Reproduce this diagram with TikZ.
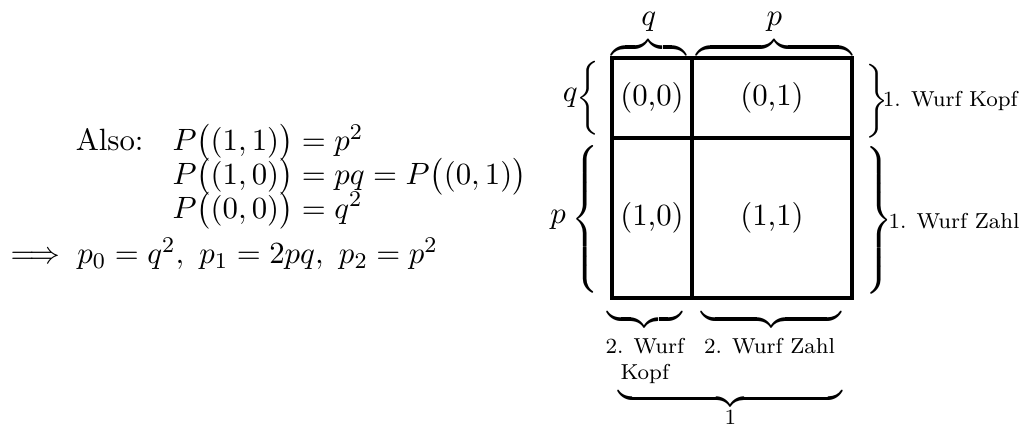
\documentclass[11pt,tikz,border=0pt]{standalone}
\usepackage{amsmath}
\newcommand{\lbrc}[1]{$\left\{\vcenter{\hbox{\rule{0pt}{#1}}}\right.$}
\newcommand{\rbrc}[1]{$\left.\vcenter{\hbox{\rule{0pt}{#1}}}\right\}$}
\begin{document}
\begin{tikzpicture}[inner sep=0pt, lab/.style={font=\fontsize{7.7}{9.4}\selectfont}, cell/.style={line width=1.1pt}]
  \useasboundingbox (-7.65,-1.6125) rectangle (5.1,3.725);
  \draw[cell] (0,0) rectangle (3,3);
  \draw[cell] (1,0) -- (1,3);
  \draw[cell] (0,2) -- (3,2);
  \node (c00) at (0.5,2.5) {(0,0)};
  \node (c01) at (2,2.5) {(0,1)};
  \node (c10) at (0.5,1) {(1,0)};
  \node (c11) at (2,1) {(1,1)};
  \node[anchor=south] (tq) at (0.46,3.0) {$\overbrace{\hskip0.93cm}$};
  \node[anchor=south] (tp) at (2.03,3.0) {$\overbrace{\hskip1.95cm}$};
  \node[anchor=base] (tqlab) at (0.46,3.41) {$q$};
  \node[anchor=base] (tplab) at (2.03,3.41) {$p$};
  \node[anchor=east] (lq) at (-0.11,2.5) {\lbrc{0.9cm}};
  \node[anchor=east] (lp) at (-0.11,0.98) {\lbrc{1.88cm}};
  \node[anchor=east] (lqlab) at (-0.42,2.5) {$q$};
  \node[anchor=east] (lplab) at (-0.57,0.98) {$p$};
  \node[anchor=west] (rk) at (3.12,2.46) {\rbrc{0.9cm}};
  \node[anchor=west] (rz) at (3.12,0.97) {\rbrc{1.88cm}};
  \node[lab, anchor=west] (rklab) at (3.38,2.46) {1. Wurf Kopf};
  \node[lab, anchor=west] (rzlab) at (3.45,0.96) {1. Wurf Zahl};
  \node[anchor=north] (bk) at (0.41,-0.13) {$\underbrace{\hskip0.93cm}$};
  \node[anchor=north] (bz) at (1.99,-0.13) {$\underbrace{\hskip1.75cm}$};
  \node[lab, align=center, anchor=north] (bklab) at (0.41,-0.49) {2. Wurf\\Kopf};
  \node[lab, anchor=north] (bzlab) at (1.97,-0.49) {2. Wurf Zahl};
  \node[anchor=north] (bsum) at (1.48,-1.12) {$\underbrace{\hskip2.8cm}$};
  \node[lab, anchor=north] (bsumlab) at (1.48,-1.39) {1};
  \node[anchor=base west] (also) at (-6.71,1.84) {Also:};
  \node[anchor=base west] (e1) at (-5.5,1.84) {$P\big((1,1)\big)=p^2$};
  \node[anchor=base west] (e2) at (-5.5,1.42) {$P\big((1,0)\big)=pq=P\big((0,1)\big)$};
  \node[anchor=base west] (e3) at (-5.5,1.00) {$P\big((0,0)\big)=q^2$};
  \node[anchor=base west] (res) at (-7.63,0.43) {$\implies p_0=q^2,\ p_1=2pq,\ p_2=p^2$};
\end{tikzpicture}
\end{document}
